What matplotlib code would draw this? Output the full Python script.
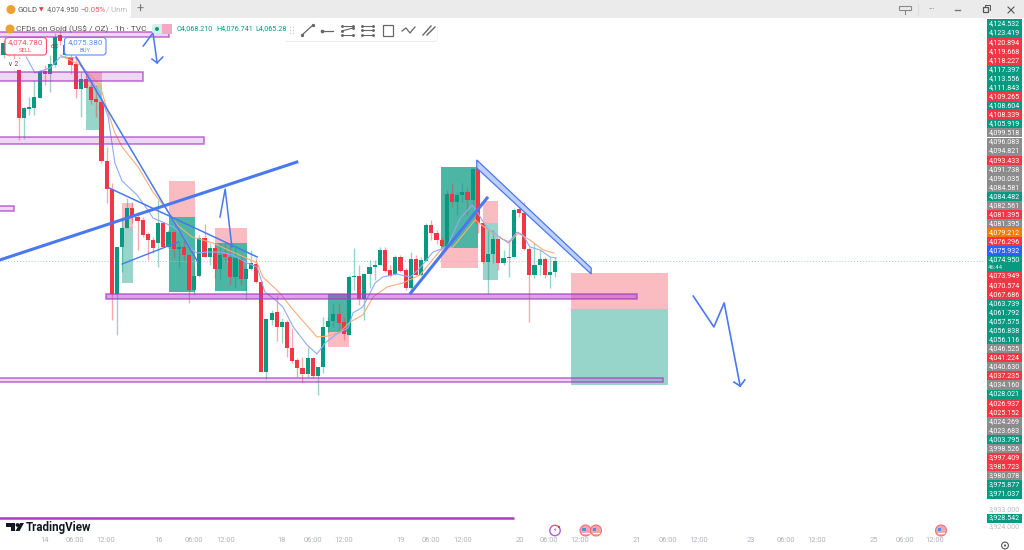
import matplotlib
matplotlib.use("Agg")
import matplotlib.pyplot as plt
from matplotlib.patches import Rectangle, FancyBboxPatch, Circle, Polygon

plt.rcParams["font.family"] = ["Roboto", "DejaVu Sans"]

RED = "#f23645"
GREEN = "#089981"
BLUE = "#4a78ee"
PURPLE = "#a93bc4"

# ---- hourly candles (bar 0 is the first one on the left edge) ----
opens = [4192.4, 4197.6, 4197.6, 4183.9, 4156.5, 4161.6, 4162.2, 4167.9, 4183.3, 4181.6,
         4186.7, 4203.8, 4192.4, 4191.3, 4187.3, 4173.0, 4178.7, 4174.2, 4167.3, 4165.6,
         4132.0, 4116.0, 4056.2, 4083.0, 4093.8, 4105.2, 4100.1, 4098.4, 4090.4, 4087.0,
         4085.3, 4096.7, 4083.0, 4091.5, 4081.8, 4083.0, 4078.4, 4058.5, 4066.4, 4088.1,
         4077.3, 4082.4, 4070.4, 4079.0, 4077.3, 4065.9, 4076.1, 4064.7, 4070.4, 4073.3,
         4063.0, 4011.7, 4041.4, 4045.9, 4037.4, 4040.2, 4025.4, 4018.6, 4014.0, 4010.6,
         4019.7, 4009.4, 4014.6, 4037.4, 4040.8, 4044.8, 4040.2, 4032.8, 4066.0, 4066.5,
         4053.3, 4067.6, 4071.6, 4072.7, 4081.3, 4069.9, 4067.6, 4077.3, 4069.9, 4059.6,
         4076.1, 4067.0, 4075.0, 4095.5, 4091.0, 4087.0, 4083.5, 4113.2, 4108.6, 4112.6,
         4114.3, 4109.8, 4127.4, 4096.7, 4074.4, 4079.0, 4087.5, 4073.9, 4076.7, 4077.3,
         4104.6, 4102.4, 4081.8, 4067.0, 4072.7, 4076.1, 4067.0, 4068.7]
closes = [4199.3, 4194.1, 4192.4, 4156.5, 4162.2, 4162.8, 4168.5, 4183.3, 4181.6, 4187.3,
          4202.7, 4200.4, 4198.1, 4186.7, 4173.0, 4178.7, 4173.6, 4166.8, 4165.6, 4132.0,
          4116.0, 4056.2, 4083.0, 4093.8, 4105.2, 4100.1, 4097.8, 4089.8, 4087.0, 4082.4,
          4096.7, 4083.0, 4091.5, 4081.8, 4083.0, 4078.4, 4058.5, 4066.4, 4088.1, 4077.3,
          4082.4, 4070.4, 4078.4, 4077.3, 4065.9, 4076.7, 4064.7, 4070.4, 4073.9, 4063.0,
          4011.7, 4041.9, 4045.4, 4037.4, 4040.2, 4025.4, 4018.0, 4014.0, 4010.6, 4019.7,
          4009.4, 4014.6, 4037.4, 4040.8, 4044.8, 4039.7, 4033.4, 4065.9, 4066.5, 4053.3,
          4067.6, 4071.6, 4072.7, 4081.3, 4069.3, 4066.4, 4077.3, 4069.3, 4059.6, 4076.1,
          4067.0, 4075.6, 4095.5, 4091.0, 4087.0, 4083.5, 4113.2, 4108.6, 4112.6, 4114.3,
          4109.8, 4127.4, 4096.7, 4074.4, 4079.0, 4087.5, 4073.9, 4076.7, 4077.3, 4104.1,
          4102.4, 4081.8, 4067.0, 4072.7, 4076.1, 4067.0, 4068.7, 4075.0]
highs = [4201.0, 4199.8, 4199.3, 4191.3, 4162.8, 4168.5, 4178.2, 4183.9, 4186.7, 4192.4,
         4205.0, 4206.7, 4201.0, 4195.3, 4191.3, 4182.7, 4182.7, 4176.5, 4175.3, 4166.8,
         4140.0, 4119.5, 4083.0, 4099.5, 4110.9, 4108.6, 4102.9, 4100.1, 4091.5, 4088.7,
         4109.8, 4097.2, 4092.7, 4092.1, 4085.8, 4086.9, 4078.4, 4072.7, 4089.8, 4096.1,
         4085.3, 4085.3, 4085.3, 4085.3, 4084.1, 4082.4, 4078.4, 4071.6, 4081.3, 4076.7,
         4063.5, 4042.5, 4047.1, 4055.6, 4042.5, 4041.4, 4036.8, 4019.7, 4020.3, 4026.0,
         4020.3, 4014.6, 4043.1, 4043.1, 4051.0, 4051.0, 4043.1, 4067.0, 4082.4, 4072.7,
         4068.2, 4075.6, 4075.6, 4083.0, 4083.0, 4072.7, 4078.4, 4078.4, 4071.0, 4080.1,
         4078.4, 4077.3, 4096.7, 4098.4, 4092.7, 4088.7, 4115.5, 4119.5, 4114.3, 4119.5,
         4117.2, 4128.0, 4132.6, 4096.7, 4092.7, 4092.7, 4088.1, 4081.3, 4087.0, 4105.2,
         4109.8, 4108.6, 4082.9, 4085.3, 4081.3, 4077.3, 4077.3, 4077.3]
lows = [4190.7, 4191.8, 4183.9, 4144.0, 4144.5, 4158.2, 4158.2, 4167.9, 4175.3, 4171.3,
        4185.6, 4198.1, 4190.7, 4181.6, 4167.9, 4157.1, 4173.6, 4164.5, 4157.1, 4130.9,
        4108.0, 4041.4, 4032.8, 4068.7, 4093.8, 4096.6, 4081.3, 4088.7, 4075.6, 4079.5,
        4071.6, 4083.0, 4082.4, 4076.7, 4071.0, 4075.6, 4051.0, 4055.6, 4065.9, 4077.3,
        4072.7, 4065.3, 4064.2, 4074.4, 4061.3, 4060.2, 4061.3, 4052.8, 4069.9, 4062.5,
        4011.7, 4007.7, 4038.5, 4029.4, 4028.3, 4020.3, 4016.9, 4008.9, 4005.5, 4008.9,
        4008.3, 3998.6, 4011.2, 4034.0, 4037.4, 4034.5, 4030.0, 4032.8, 4058.5, 4049.9,
        4041.4, 4059.6, 4064.2, 4072.7, 4068.7, 4065.9, 4067.0, 4068.7, 4058.5, 4056.8,
        4067.0, 4066.4, 4075.0, 4087.0, 4084.7, 4082.4, 4083.0, 4105.8, 4101.2, 4108.6,
        4101.2, 4106.9, 4091.0, 4073.9, 4056.2, 4073.9, 4069.9, 4072.7, 4065.9, 4077.3,
        4100.1, 4081.3, 4040.2, 4065.3, 4067.0, 4065.3, 4059.6, 4065.9]

ma_fast_bars = [4.4, 6.1, 9.0, 11.0, 14.3, 16.4, 18.7, 20.3, 21.6, 23.0, 25.9, 28.0, 29.0, 30.9,
                32.9, 34.8, 36.2, 37.5, 39.5, 42.0, 44.5, 47.2, 49.2, 50.7, 52.3, 54.2, 56.2,
                58.9, 60.8, 62.4, 64.3, 66.8, 67.8, 69.7, 72.1, 73.6, 76.3, 78.9, 80.8, 83.3,
                86.0, 88.6, 90.9, 92.0, 93.8, 95.7, 97.9, 99.6, 100.8, 102.1, 104.1, 106.0, 107.2]
ma_fast = [4191.3, 4182.2, 4185.0, 4191.3, 4190.7, 4181.0, 4170.8, 4157.1, 4130.9, 4120.6, 4112.6,
           4104.1, 4099.5, 4097.2, 4094.4, 4089.8, 4082.4, 4079.6, 4080.1, 4080.1, 4078.4, 4073.9,
           4071.6, 4057.3, 4053.9, 4048.8, 4037.4, 4027.1, 4022.0, 4028.3, 4032.8, 4036.8, 4045.4,
           4048.8, 4062.5, 4065.9, 4067.6, 4065.9, 4071.0, 4080.1, 4083.0, 4099.5, 4106.9, 4102.4,
           4093.8, 4089.8, 4085.3, 4091.5, 4089.8, 4083.0, 4081.3, 4077.3, 4076.7]
ma_slow_bars = [11.0, 14.8, 16.8, 18.7, 20.3, 21.6, 23.0, 26.1, 29.0, 31.7, 33.7, 36.6, 40.6, 44.5,
                49.2, 50.3, 53.6, 56.2, 60.8, 62.8, 65.3, 67.2, 69.7, 71.7, 74.4, 77.5, 80.8, 85.1,
                87.2, 91.5, 94.0, 96.3, 98.3, 99.8, 102.1, 104.7, 106.8]
ma_slow = [4192.4, 4186.7, 4181.0, 4175.3, 4159.4, 4148.0, 4140.0, 4128.6, 4114.3, 4104.1, 4095.5,
           4088.7, 4085.3, 4080.1, 4073.9, 4065.9, 4056.8, 4047.1, 4031.7, 4032.2, 4034.5, 4040.2,
           4044.2, 4054.5, 4060.2, 4062.5, 4067.0, 4082.4, 4083.0, 4098.4, 4092.7, 4088.1, 4085.8,
           4090.9, 4087.0, 4081.3, 4079.5]

# ---- position tools: stop price, entry price, target price ----
pos_start = [16.0, 23.0, 32.1, 41.0, 62.95, 84.9, 93.0, 110.1]
pos_end = [19.1, 25.1, 37.15, 47.2, 67.0, 92.05, 95.9, 128.9]
pos_stop = [4182.7, 4108.1, 4120.6, 4093.8, 4026.0, 4071.0, 4109.2, 4068.2]
pos_entry = [4175.3, 4094.4, 4100.1, 4085.3, 4034.5, 4082.4, 4096.7, 4047.6]
pos_target = [4149.7, 4062.5, 4057.3, 4057.9, 4056.2, 4128.6, 4064.2, 4004.3]

# ---- purple supply / demand bands ----
band_start = [-3, -3, -3, -3, 19.9, -3]
band_end = [32.1, 27.1, 38.9, 2.0, 122.9, 127.9]
band_top = [4205.5, 4182.7, 4145.7, 4106.3, 4056.2, 4008.3]
band_bottom = [4202.7, 4177.6, 4141.7, 4103.5, 4053.3, 4006.0]

# ---- right scale labels, stacked top to bottom ----
scale_labels = ["4,124.532", "4,123.419", "4,120.894", "4,119.668", "4,118.227", "4,117.397",
                "4,113.556", "4,111.843", "4,109.265", "4,108.604", "4,108.339", "4,105.919",
                "4,099.518", "4,096.083", "4,094.821", "4,093.433", "4,091.738", "4,090.035",
                "4,084.581", "4,084.482", "4,082.561", "4,081.395", "4,081.395", "4,079.212",
                "4,076.296", "4,075.932", "4,074.950", "4,073.949", "4,070.574", "4,067.686",
                "4,063.739", "4,061.792", "4,057.575", "4,056.838", "4,056.116", "4,046.525",
                "4,041.224", "4,040.630", "4,037.235", "4,034.160", "4,028.021", "4,026.937",
                "4,025.152", "4,024.269", "4,023.683", "4,003.795", "3,998.526", "3,997.409",
                "3,985.723", "3,980.078", "3,975.877", "3,971.037"]
scale_kinds = "ggrrrgggrgrg" + "xxxrxxxgxrxorbg" + "rrr" + "ggggg" + "xrxrxg" + "rrxxgxrrxgg"

# ---- time axis ----
time_ticks = [8.05, 13.9, 19.9, 30.0, 37.0, 43.0, 54.0, 60.0, 66.0, 77.1, 83.0, 89.0, 100.2,
              105.8, 111.8, 122.9, 128.9, 134.9, 145.0, 151.8, 157.8, 168.9, 174.9, 180.7]
time_labels = ["14", "06:00", "12:00", "16", "06:00", "12:00", "18", "06:00", "12:00", "19",
               "06:00", "12:00", "20", "06:00", "12:00", "21", "06:00", "12:00", "23", "06:00",
               "12:00", "25", "06:00", "12:00"]

fig = plt.figure(figsize=(10.24, 5.5), dpi=100)
ax = fig.add_axes([0, 0, 1, 1])
ax.set_xlim(-0.68, 197.96)
ax.set_ylim(3910.27, 4223.77)
ax.axis("off")

# position boxes go under the candles, some were drawn twice so they look darker
doubled = {2, 3, 4, 5}
for n, (x0, x1, stop, entry, target) in enumerate(zip(pos_start, pos_end, pos_stop, pos_entry, pos_target)):
    ax.add_patch(Rectangle((x0, min(stop, entry)), x1 - x0, abs(stop - entry), fc=RED, alpha=0.33, lw=0, zorder=1))
    ax.add_patch(Rectangle((x0, min(entry, target)), x1 - x0, abs(entry - target), fc=GREEN,
                           alpha=0.72 if n in doubled else 0.42, lw=0, zorder=1))

# last price line
ax.hlines(closes[-1], -1, 190.4, color="#8fd6c8", lw=0.7, linestyles=(0, (1, 2)), zorder=1)

# candles
for i in range(len(opens)):
    col = GREEN if closes[i] >= opens[i] else RED
    ax.vlines(i, lows[i], highs[i], color=col, lw=1.0, alpha=0.42, zorder=3)
    ax.bar(i, abs(closes[i] - opens[i]), bottom=min(opens[i], closes[i]), width=0.8, color=col, lw=0, zorder=4)

ax.plot(ma_slow_bars, ma_slow, color="#f6ad78", lw=0.8, zorder=5)
ax.plot(ma_fast_bars, ma_fast, color="#8fabf7", lw=0.8, zorder=5)

# purple bands, the long one in the middle has a stronger fill
for n, (x0, x1, top, bot) in enumerate(zip(band_start, band_end, band_top, band_bottom)):
    ax.add_patch(Rectangle((x0, bot), x1 - x0, top - bot, fc=PURPLE, alpha=0.45 if n == 4 else 0.2, lw=0, zorder=6))
    ax.add_patch(Rectangle((x0, bot), x1 - x0, top - bot, fc="none", ec=PURPLE, lw=1.1, alpha=0.75, zorder=6))
ax.hlines(3928.5, -1, 99.0, color=PURPLE, lw=1.8, zorder=6)

# hand drawn trend lines and arrows
ax.plot([-0.7, 56.9], [4075.6, 4131.4], color=BLUE, lw=2.2, zorder=7)
ax.plot([14.1, 37.7], [4191.3, 4074.4], color=BLUE, lw=1.1, zorder=7)
ax.plot([20.5, 49.2], [4116.6, 4077.3], color=BLUE, lw=1.1, zorder=7)
ax.plot([23.0, 33.9], [4073.3, 4085.8], color=BLUE, lw=1.0, zorder=7)
ax.plot([42.0, 43.0, 44.3], [4100.1, 4116.0, 4083.0], color=BLUE, lw=1.1, zorder=7)
ax.plot([27.1, 29.0, 29.8], [4197.5, 4205.0, 4187.9], color=BLUE, lw=1.1, zorder=7)
ax.plot([28.8, 29.8, 30.9], [4190.1, 4187.9, 4191.3], color=BLUE, lw=1.1, zorder=7)
ax.plot([79.0, 93.8], [4056.8, 4110.9], color=BLUE, lw=2.2, zorder=7)
ax.add_patch(Polygon([(91.8, 4132.6), (114.0, 4071.0), (114.0, 4067.6), (91.8, 4128.0)],
                     fc="#bcd0fb", ec=BLUE, lw=0.9, zorder=7))
ax.plot([133.8, 137.8, 139.8, 142.9], [4055.0, 4037.4, 4051.1, 4003.7], color=BLUE, lw=1.2, zorder=7)
ax.plot([141.7, 142.9, 143.8], [4006.0, 4003.7, 4007.2], color=BLUE, lw=1.2, zorder=7)

# time axis labels
for t, lab in zip(time_ticks, time_labels):
    ax.text(t, 3915.9, lab, ha="center", va="center", fontsize=5.4, color="#b0b3bb", zorder=8)

# ---- interface around the chart, laid out in screen pixels ----
ui = fig.add_axes([0, 0, 1, 1], facecolor="none")
ui.set_xlim(0, 1024)
ui.set_ylim(550, 0)
ui.axis("off")

ui.add_patch(Rectangle((0, 0), 1024, 18, fc="#ebebeb", lw=0))
ui.add_patch(FancyBboxPatch((-8, -6), 139, 24, boxstyle="round,pad=0,rounding_size=3", fc="white", lw=0))
ui.add_patch(Circle((11, 9.5), 4.5, fc="#eda12f", lw=0))
ui.text(18, 9.5, "GOLD", fontsize=5.7, color="#555555", va="center")
ui.text(41, 9.5, "▼", fontsize=4.2, color=RED, va="center", ha="center")
ui.text(47, 9.5, "4,074.950", fontsize=5.3, color="#666666", va="center")
ui.text(80, 9.5, "−0.05%", fontsize=5.6, color="#f7525f", va="center")
ui.text(106, 9.5, "/ Unm", fontsize=5.6, color="#b8b8b8", va="center")
ui.text(140.5, 9.5, "+", fontsize=9, color="#777777", va="center", ha="center")

# window buttons
ui.add_patch(Rectangle((899, 6), 12, 4, fc="none", ec="#8a8a8a", lw=0.8))
ui.plot([905, 905], [10, 14], color="#8a8a8a", lw=0.8)
ui.plot([917.5, 917.5], [4, 15], color="#dddddd", lw=0.8)
ui.text(932, 9.5, "•••", fontsize=4.5, color="#a0a0a0", va="center", ha="center")
ui.plot([955, 960], [10, 10], color="#777777", lw=1)
ui.add_patch(Rectangle((983, 7), 5, 5, fc="none", ec="#555555", lw=0.9))
ui.plot([985, 985, 990, 990], [7, 5, 5, 10], color="#555555", lw=0.7)
ui.plot([1008, 1014], [7, 13], color="#555555", lw=0.8)
ui.plot([1014, 1008], [7, 13], color="#555555", lw=0.8)

# chart header
ui.add_patch(Circle((10, 29), 4.5, fc="#eda12f", lw=0))
ui.text(16.5, 29, "CFDs on Gold (US$ / OZ) · 1h · TVC", fontsize=6.0, color="#555555", va="center")
ui.add_patch(FancyBboxPatch((152, 24), 20, 9.5, boxstyle="round,pad=0,rounding_size=2.5", fc="#d5efe9", lw=0))
ui.add_patch(Rectangle((162, 24), 10, 9.5, fc="#f3a8c6", lw=0))
ui.add_patch(Circle((157, 29), 2, fc=GREEN, lw=0))
ui.text(177, 29, "O4,068.210", fontsize=5.2, color=GREEN, va="center")
ui.text(216, 29, "H4,076.741", fontsize=5.2, color=GREEN, va="center")
ui.text(255, 29, "L4,065.28", fontsize=5.2, color=GREEN, va="center")

# buy and sell buttons
for left, col, price, word in [(5, "#f7525f", "4,074.780", "SELL"), (64.5, "#5b8cf7", "4,075.380", "BUY")]:
    ui.add_patch(FancyBboxPatch((left, 37.5), 41.5, 17.5, boxstyle="round,pad=0,rounding_size=3", fc="white", ec=col, lw=0.8, zorder=3))
    ui.text(left + 20.7, 42.5, price, fontsize=5.8, color=col, ha="center", va="center", zorder=4)
    ui.text(left + 20.7, 50.5, word, fontsize=4.2, color=col, ha="center", va="center", zorder=4)
ui.text(55, 46, "600", fontsize=3.6, color="#555555", ha="center", va="center")
ui.add_patch(Rectangle((5, 59), 16, 11, fc="white", lw=0, alpha=0.85))
ui.text(13, 64.5, "∨ 2", fontsize=4.8, color="#555555", ha="center", va="center")

# drawing toolbar
ui.add_patch(FancyBboxPatch((284.5, 21), 153, 21, boxstyle="round,pad=0,rounding_size=3", fc="#e4e4e4", lw=0, alpha=0.7))
ui.add_patch(FancyBboxPatch((284, 20), 153, 21, boxstyle="round,pad=0,rounding_size=3", fc="white", lw=0))
icon = "#666666"
ui.scatter([290, 293, 290, 293, 290, 293], [27, 27, 30, 30, 33, 33], s=1, c="#cccccc", lw=0)
ui.plot([302, 313], [35, 25], color=icon, lw=0.9, marker="o", ms=1.4)
ui.plot([322, 333], [30.5, 30.5], color=icon, lw=0.9)
ui.plot([322], [30.5], color=icon, marker="o", ms=1.6)
for y0, y1 in [(26, 26), (31, 28), (35, 35)]:
    ui.plot([342, 353], [y0, y1], color=icon, lw=0.8, marker="o", ms=1.1)
for y0 in [26, 30, 35]:
    ui.plot([362, 373], [y0, y0], color=icon, lw=0.8, marker="o", ms=1.1)
ui.add_patch(Rectangle((383, 25), 10, 10.5, fc="none", ec=icon, lw=0.9))
ui.plot([402, 406, 410, 415], [31, 28, 33, 27], color=icon, lw=0.9)
ui.plot([423, 431], [35, 26], color=icon, lw=1.0)
ui.plot([427, 435], [35, 27], color=icon, lw=1.0)

# price scale
row_height = 9.08
y = 24.0
for lab, kind in zip(scale_labels, scale_kinds):
    col = {"g": GREEN, "r": RED, "x": "#8c8c8c", "o": "#f57c00", "b": "#2962ff"}[kind]
    h = row_height
    if lab == "4,074.950":
        h = 16
        ui.text(995, y + 7.3, "46:44", fontsize=4.4, color="#d7f0ea", ha="center", va="center", zorder=3)
    ui.add_patch(Rectangle((986.7, y - 4.54), 35, h, fc=col, lw=0))
    ui.text(1004.2, y, lab, fontsize=5.1, color="white", ha="center", va="center", zorder=3)
    y += h

ui.text(1004.2, 509.3, "3,933.000", fontsize=5.1, color="#b8bbc2", ha="center", va="center")
ui.add_patch(Rectangle((986.7, 513.5), 35, 9, fc=GREEN, lw=0))
ui.text(1004.2, 518, "3,928.542", fontsize=5.1, color="white", ha="center", va="center", zorder=3)
ui.text(1004.2, 526.7, "3,924.000", fontsize=5.1, color="#b8bbc2", ha="center", va="center")
ui.add_patch(Circle((1005, 545.5), 3.4, fc="none", ec="#555555", lw=0.8))
ui.add_patch(Circle((1005, 545.5), 1.1, fc="#555555", lw=0))

# logo
ui.add_patch(Polygon([(6, 523), (15, 523), (15, 531), (11, 531), (11, 527), (6, 527)], fc="#131722", lw=0))
ui.add_patch(Circle((17.5, 525), 1.9, fc="#131722", lw=0))
ui.add_patch(Polygon([(20, 523), (24, 523), (19.5, 531), (15.5, 531)], fc="#131722", lw=0))
ui.text(26, 527, "TradingView", fontsize=8.3, fontweight="bold", color="#131722", va="center")

# event markers
ui.add_patch(Circle((555, 530.5), 5.2, fc="white", ec="#b45bd6", lw=1.0))
ui.text(555, 530.5, "⚡", fontsize=4.5, color="#a93bc4", ha="center", va="center")
ui.add_patch(Circle((559, 527), 1.1, fc=RED, lw=0))
for cx in [585.5, 596, 941]:
    ui.add_patch(Circle((cx, 530.5), 5.5, fc="#f6a5ab", ec="#f2727d", lw=0.8))
    ui.add_patch(Rectangle((cx - 3.2, 527.5), 3.4, 3, fc="#4f8fe8", lw=0))
    ui.plot([cx - 3.2, cx + 3.2], [532.5, 532.5], color="white", lw=0.8)

fig.savefig("out.png", dpi=100)
